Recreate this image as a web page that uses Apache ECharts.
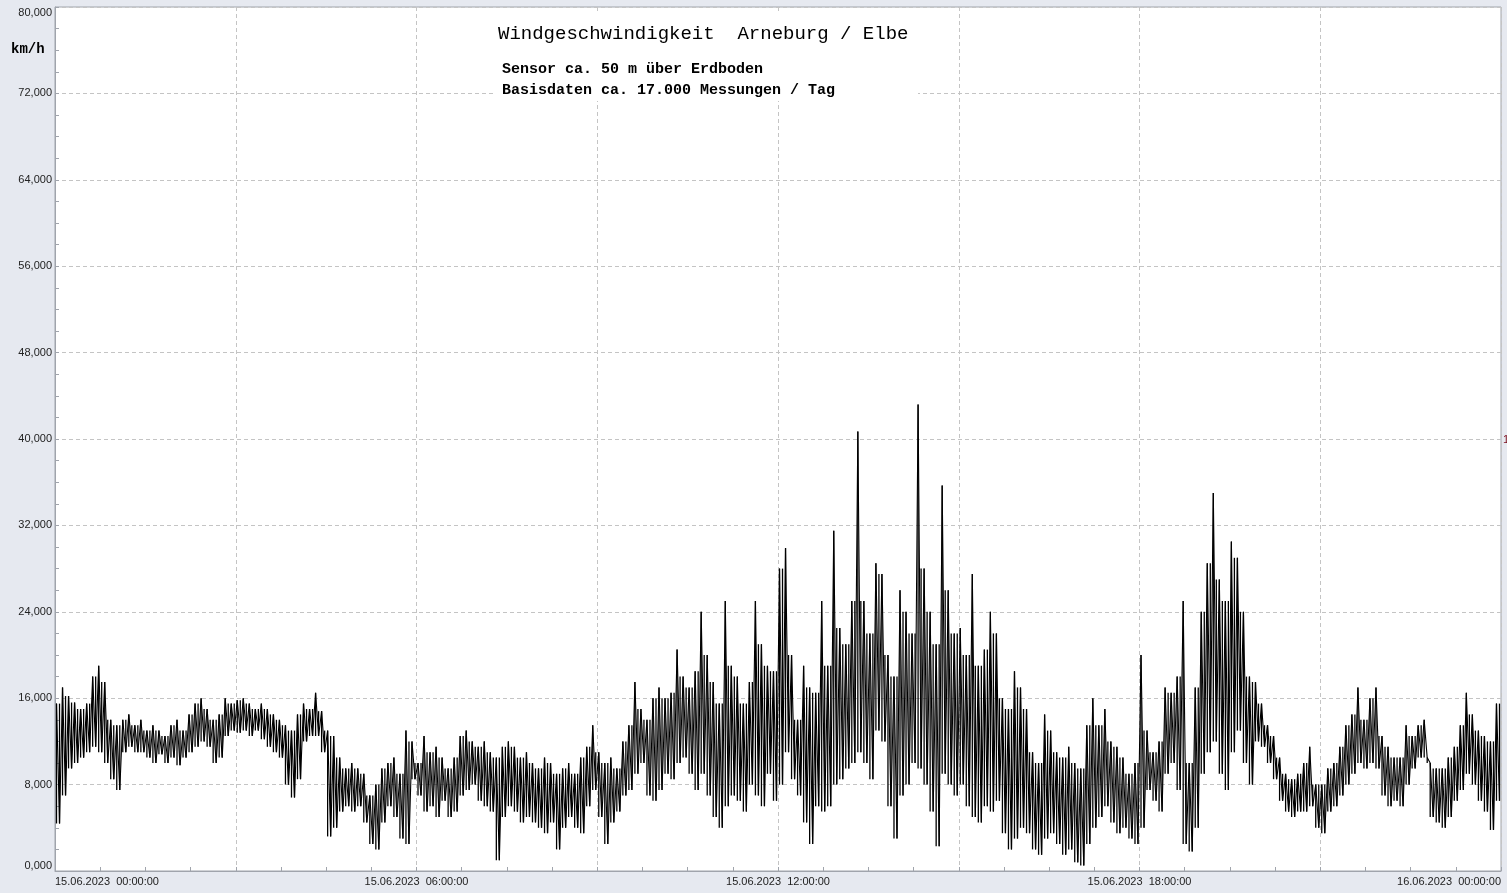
<!DOCTYPE html>
<html>
<head>
<meta charset="utf-8">
<script src="https://cdn.jsdelivr.net/npm/echarts@6/dist/echarts.min.js"></script>
<style>
html,body{margin:0;padding:0;background:#e6e9f0;}
#c{width:1507px;height:893px;}
</style>
</head>
<body>
<div id="c"></div>
<script>
// ---- data (km/h), envelope (max / min) per 6-minute bin over 15.06.2023 00:00 - 16.06.2023 00:00 ----
const binMinutes = 6;
const hiVals = [
  15.5,17.0,16.2,15.6,15.0,15.5,18.0,19.0,17.5,14.0,
  13.5,14.0,14.5,13.5,14.0,13.0,13.5,13.0,12.5,13.5,
  14.0,13.0,14.5,15.5,16.0,15.0,14.0,14.5,16.0,15.5,
  15.8,16.0,15.5,15.0,15.5,15.0,14.5,14.0,13.5,13.0,
  14.5,15.5,15.0,16.5,14.8,13.0,12.5,10.5,9.5,10.0,
  9.5,9.0,7.0,8.0,9.5,10.0,10.5,9.0,13.0,12.0,
  10.0,12.5,11.0,11.5,10.5,9.5,10.5,12.5,13.0,12.0,
  11.5,12.0,11.0,10.5,11.5,12.0,11.5,10.5,11.0,10.0,
  9.5,10.5,10.0,9.0,9.5,10.0,9.0,10.5,11.5,13.5,
  11.0,10.0,10.5,9.5,12.0,13.5,17.5,15.0,14.0,16.0,
  17.0,16.0,16.5,20.5,18.0,17.0,18.5,24.0,20.0,17.5,
  15.5,25.0,19.0,18.0,15.5,17.5,25.0,21.0,19.0,18.5,
  28.0,29.9,20.0,14.0,19.0,17.0,16.5,25.0,19.0,31.5,
  22.5,21.0,25.0,40.7,25.0,22.0,28.5,27.5,20.0,18.0,
  26.0,24.0,22.0,43.2,28.0,24.0,21.0,35.7,26.0,22.0,
  22.5,20.0,27.5,19.0,20.5,24.0,22.0,16.0,15.0,18.5,
  17.0,15.0,11.0,10.0,14.5,13.0,11.0,10.5,11.5,10.0,
  9.5,13.5,16.0,13.5,15.0,12.0,11.5,10.5,9.0,10.0,
  20.0,13.0,11.0,12.0,17.0,16.5,18.0,25.0,10.0,17.0,
  24.0,28.5,35.0,27.0,25.0,30.5,29.0,24.0,18.0,17.5,
  15.5,13.5,12.5,10.5,9.0,8.5,9.0,10.0,11.5,8.0,
  8.0,9.5,10.0,11.5,13.5,14.5,17.0,14.0,16.0,17.0,
  12.5,11.5,10.5,10.5,13.5,12.5,13.5,14.0,10.0,9.5,
  9.5,10.5,11.5,13.5,16.5,14.5,13.0,12.5,12.0,15.5
];
const loVals = [
  4.4,7.0,9.5,10.0,10.5,11.0,11.5,11.0,10.0,8.5,
  7.5,11.0,11.5,11.0,11.0,10.5,10.0,10.8,10.0,10.5,
  9.8,10.5,11.0,11.5,12.0,11.5,10.0,10.5,12.5,13.0,
  12.8,13.0,12.5,13.0,12.2,11.5,11.0,10.5,8.0,6.8,
  8.5,12.0,12.5,12.5,11.0,3.2,4.0,5.5,6.0,5.5,
  6.0,4.5,2.5,2.0,4.5,6.0,5.0,3.0,2.5,8.5,
  7.0,5.5,6.0,5.0,6.5,5.0,5.5,7.0,7.5,8.0,
  6.5,6.0,5.5,1.0,5.0,6.0,5.5,4.5,5.0,4.5,
  4.0,3.5,4.5,2.0,4.0,5.0,4.0,3.5,6.0,7.5,
  5.0,2.5,4.5,5.5,7.0,7.5,9.0,10.0,7.0,6.5,
  7.5,9.0,8.5,10.0,10.5,9.0,7.5,9.0,7.0,5.0,
  4.0,6.0,7.0,6.5,5.5,8.0,7.0,6.0,9.0,6.5,
  8.0,11.0,8.5,7.0,4.5,2.5,6.0,5.5,6.0,8.0,
  8.5,9.5,10.0,11.0,10.0,8.5,13.0,12.0,6.0,3.0,
  7.0,8.0,10.0,9.5,8.0,5.5,2.3,9.0,8.0,7.0,
  8.0,6.0,5.0,4.5,6.0,5.5,6.5,3.5,2.0,3.0,
  4.0,3.5,2.0,1.5,3.0,3.5,2.5,1.5,2.0,0.8,
  0.5,2.5,4.0,5.0,6.0,4.5,3.5,4.0,3.0,2.5,
  4.0,7.5,6.5,5.5,9.0,10.0,7.5,2.5,1.8,4.0,
  9.0,11.0,12.0,9.0,7.5,11.0,13.0,10.0,8.0,12.0,
  11.5,10.0,8.5,6.5,5.5,5.0,5.5,5.5,6.0,4.0,
  3.5,5.5,6.0,7.0,8.0,9.0,10.0,9.5,10.0,9.5,
  7.0,6.0,6.5,6.0,8.0,9.5,10.5,10.5,5.0,4.5,
  4.0,5.0,6.5,7.5,9.0,8.0,6.5,5.5,3.8,6.5
];
const xLabelMap = {
  0: '15.06.2023  00:00:00',
  360: '15.06.2023  06:00:00',
  720: '15.06.2023  12:00:00',
  1080: '15.06.2023  18:00:00',
  1440: '16.06.2023  00:00:00'
};
const titleText = 'Windgeschwindigkeit  Arneburg / Elbe';
const subLine1 = 'Sensor ca. 50 m über Erdboden';
const subLine2 = 'Basisdaten ca. 17.000 Messungen / Tag';
const unitText = 'km/h';

// zigzag through the envelope (max then min inside each bin) + min-max strokes like the dense raw trace.
// The stroke at the min vertex only rises to the lower of the two neighbouring maxima, so single spikes stay single.
const lineData = [];
const rangeData = [];
for (let i = 0; i < hiVals.length; i++) {
  const t0 = i * binMinutes;
  lineData.push([t0 + 1.5, hiVals[i]]);
  lineData.push([t0 + 4.5, loVals[i]]);
  rangeData.push([t0 + 1.5, loVals[i], hiVals[i]]);
  const nextHi = i + 1 < hiVals.length ? hiVals[i + 1] : hiVals[i];
  rangeData.push([t0 + 4.5, loVals[i], Math.min(hiVals[i], nextHi)]);
}

const chart = echarts.init(document.getElementById('c'), null, {renderer: 'canvas'});
const gridColor = '#c4c4c4';
const axisColor = '#a0a4ac';
chart.setOption({
  backgroundColor: '#e6e9f0',
  animation: false,
  grid: {left: 55, right: 6, top: 7, bottom: 22, show: true, backgroundColor: '#ffffff', borderColor: axisColor, borderWidth: 1},
  xAxis: {
    type: 'value', min: 0, max: 1440, interval: 180,
    axisLine: {show: true, lineStyle: {color: axisColor}},
    axisTick: {show: true, inside: true, length: 4, lineStyle: {color: axisColor}},
    minorTick: {show: true, splitNumber: 4, length: 4, lineStyle: {color: axisColor}},
    splitLine: {show: true, lineStyle: {color: gridColor, type: [4, 3]}},
    axisLabel: {
      show: true, color: '#222', fontFamily: 'Liberation Sans, Arial, sans-serif', fontSize: 11, margin: 5,
      showMinLabel: true, showMaxLabel: true,
      alignMinLabel: 'left', alignMaxLabel: 'right',
      formatter: v => xLabelMap[v] || ''
    }
  },
  yAxis: {
    type: 'value', min: 0, max: 80, interval: 8,
    axisLine: {show: true, lineStyle: {color: axisColor}},
    axisTick: {show: true, inside: true, length: 4, lineStyle: {color: axisColor}},
    minorTick: {show: true, splitNumber: 4, length: 4, lineStyle: {color: axisColor}},
    splitLine: {show: true, lineStyle: {color: gridColor, type: [4, 3]}},
    axisLabel: {
      color: '#222', fontFamily: 'Liberation Sans, Arial, sans-serif', fontSize: 11, margin: 3,
      verticalAlignMinLabel: 'bottom', verticalAlignMaxLabel: 'top',
      formatter: v => v.toFixed(3).replace('.', ',')
    }
  },
  series: [
    {
      type: 'line', data: lineData, showSymbol: false, symbol: 'none',
      lineStyle: {color: '#000', width: 1.1}, z: 3
    },
    {
      type: 'custom', data: rangeData, z: 3,
      encode: {x: 0, y: [1, 2]},
      renderItem: function (params, api) {
        const p1 = api.coord([api.value(0), api.value(1)]);
        const p2 = api.coord([api.value(0), api.value(2)]);
        return {type: 'line', shape: {x1: p1[0], y1: p1[1], x2: p2[0], y2: p2[1]}, style: {stroke: '#000', lineWidth: 1.3}};
      }
    }
  ],
  graphic: [
    {type: 'rect', left: 495, top: 11, shape: {width: 423, height: 90}, style: {fill: '#ffffff'}, z: 10},
    {type: 'text', left: 498, top: 24, style: {text: titleText, font: '19px "Liberation Mono", monospace', fill: '#000'}, z: 11},
    {type: 'text', left: 502, top: 62, style: {text: subLine1, font: 'bold 15px "Liberation Mono", monospace', fill: '#000'}, z: 11},
    {type: 'text', left: 502, top: 83, style: {text: subLine2, font: 'bold 15px "Liberation Mono", monospace', fill: '#000'}, z: 11},
    {type: 'text', left: 11, top: 42, style: {text: unitText, font: 'bold 14px "Liberation Mono", monospace', fill: '#000'}, z: 11},
    {type: 'text', left: 1503, top: 434, style: {text: '1', font: '11px "Liberation Sans", sans-serif', fill: '#7a0a1a'}, z: 11}
  ]
});
</script>
</body>
</html>
